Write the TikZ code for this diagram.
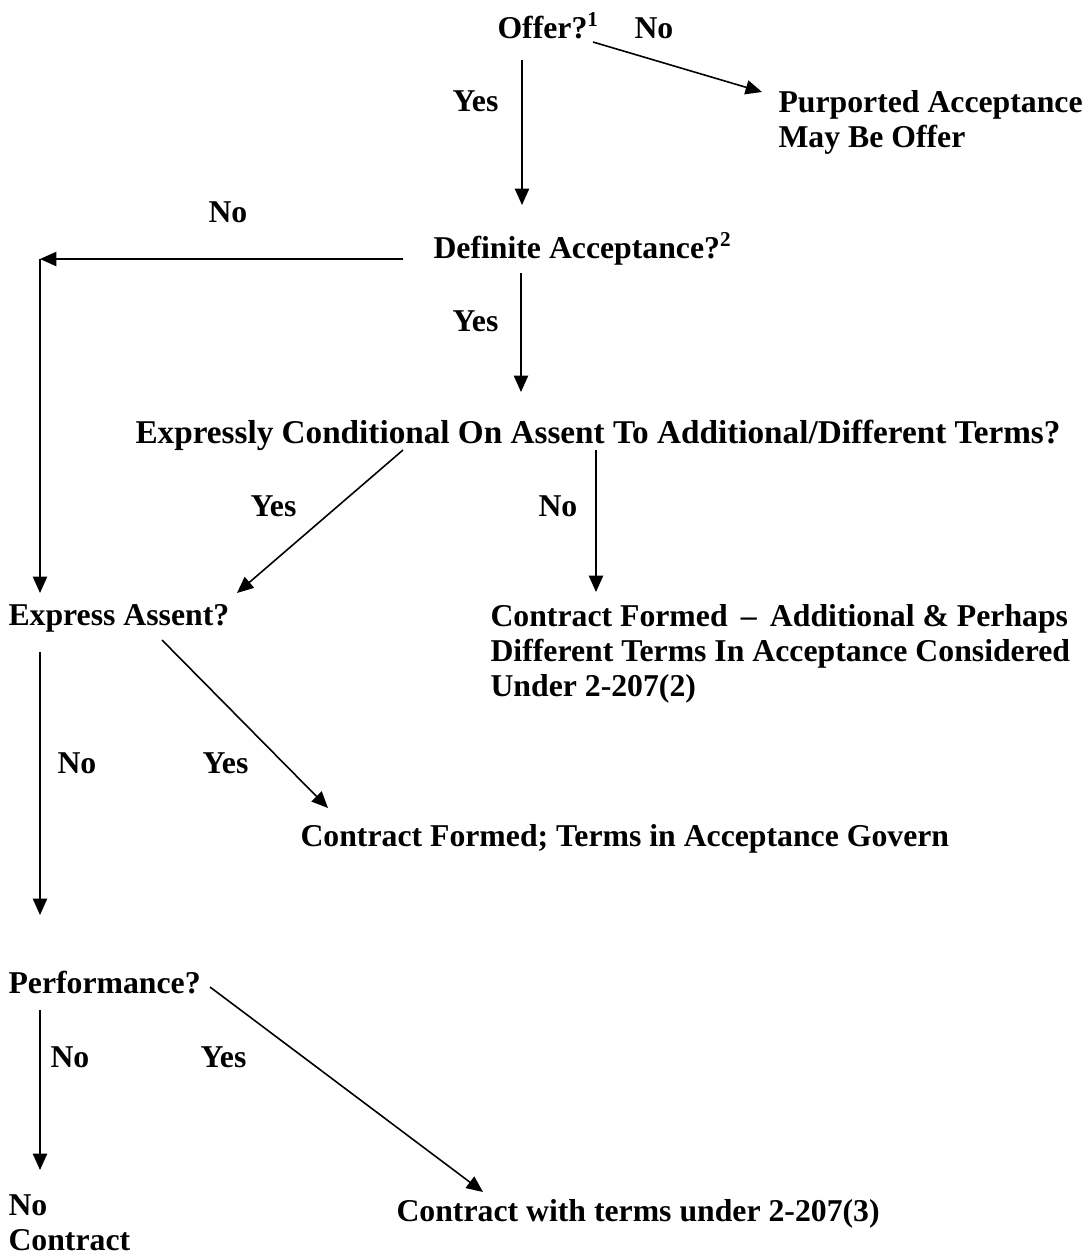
\documentclass[tikz,border=0pt]{standalone}
\usepackage{fontspec}
\setmainfont{Liberation Serif}
\usetikzlibrary{arrows.meta}
\begin{document}
\begin{tikzpicture}[x=0.378pt,y=-0.378pt,
 lbl/.style={anchor=base west,inner sep=0pt,font=\bfseries\fontsize{12pt}{13.2pt}\selectfont,align=left},
 arr/.style={line width=0.6pt,-{Triangle[length=6.2pt,width=5.4pt]}}]
\useasboundingbox (0,0) rectangle (1089,1255);
% texts (multi-line nodes are placed by the baseline of their last line)
\node[lbl] (offer) at (497,38) {Offer?\textsuperscript{1}};
\node[lbl] (offerNo) at (634,38) {No};
\node[lbl] (offerYes) at (452,111) {Yes};
\node[lbl] (purp) at (778,147) {Purported Acceptance\\May Be Offer};
\node[lbl] (defNo) at (208,222) {No};
\node[lbl] (def) at (433,258) {Definite Acceptance?\textsuperscript{2}};
\node[lbl] (defYes) at (452,331) {Yes};
\node[lbl,font=\bfseries\fontsize{12.56pt}{13.2pt}\selectfont] (expr) at (135,443) {Expressly Conditional On Assent To Additional/Different Terms?};
\node[lbl] (exprYes) at (250,516) {Yes};
\node[lbl] (exprNo) at (538,516) {No};
\node[lbl] (assent) at (8,625) {Express Assent?};
\node[lbl] (cf1) at (490,696) {Contract Formed \,--\, Additional \& Perhaps\\Different Terms In Acceptance Considered\\Under 2-207(2)};
\node[lbl] (assNo) at (57,773) {No};
\node[lbl] (assYes) at (202,773) {Yes};
\node[lbl] (cfg) at (300,846) {Contract Formed; Terms in Acceptance Govern};
\node[lbl] (perf) at (8,993) {Performance?};
\node[lbl] (perfNo) at (50,1067) {No};
\node[lbl] (perfYes) at (200,1067) {Yes};
\node[lbl] (nocon) at (8,1250) {No\\Contract};
\node[lbl] (cw) at (396,1221) {Contract with terms under 2-207(3)};
% connector end points
\coordinate (o1) at (593,42);  \coordinate (p1) at (762,92);
\coordinate (o2) at (522,60);  \coordinate (d1) at (522,205);
\coordinate (d2) at (403,259); \coordinate (corner) at (40,259);
\coordinate (a1) at (40,593);
\coordinate (d3) at (521,273); \coordinate (e1) at (521,392);
\coordinate (e2) at (403,450); \coordinate (a2) at (237,593);
\coordinate (e3) at (596,450); \coordinate (c1) at (596,592);
\coordinate (a3) at (40,652);  \coordinate (pf1) at (40,915);
\coordinate (a4) at (162,640); \coordinate (g1) at (328,808);
\coordinate (pf2) at (210,987); \coordinate (w1) at (483,1192);
\coordinate (pf3) at (40,1010); \coordinate (n1) at (40,1170);
% connectors
\draw[arr] (o1) -- (p1);
\draw[arr] (o2) -- (d1);
\draw[arr] (d2) -- (corner);
\draw[arr] (corner) -- (a1);
\draw[arr] (d3) -- (e1);
\draw[arr] (e2) -- (a2);
\draw[arr] (e3) -- (c1);
\draw[arr] (a3) -- (pf1);
\draw[arr] (a4) -- (g1);
\draw[arr] (pf2) -- (w1);
\draw[arr] (pf3) -- (n1);
\end{tikzpicture}
\end{document}
